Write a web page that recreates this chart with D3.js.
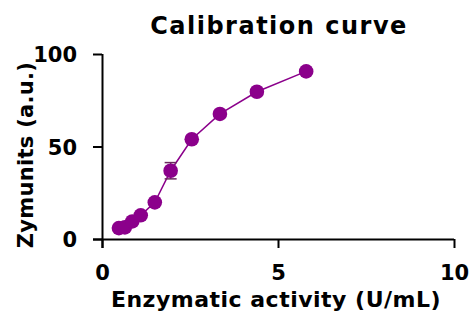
<!DOCTYPE html>
<html><head><meta charset="utf-8">
<script src="https://cdn.jsdelivr.net/npm/d3@7"></script>
<style>body{margin:0;background:#fff}svg{display:block}text{font-family:"DejaVu Sans",sans-serif;font-weight:bold;fill:#000}</style>
</head><body><svg id="c" width="469" height="312"></svg>
<script>
const activity = [0.48, 0.65, 0.86, 1.1, 1.5, 1.95, 2.55, 3.35, 4.4, 5.8];
const zymunits = [5.9, 6.3, 9.5, 12.8, 19.8, 36.9, 53.9, 67.6, 79.6, 90.6];
const errors   = [0, 0, 0, 0, 0, 4.4, 0, 0, 0, 0];
const xTicks = [0, 5, 10];
const yTicks = [0, 50, 100];
const title = "Calibration curve";
const xTitle = "Enzymatic activity (U/mL)";
const yTitle = "Zymunits (a.u.)";

const svg = d3.select("#c");
const x = d3.scaleLinear().domain([0,10]).range([102,454]);
const y = d3.scaleLinear().domain([0,100]).range([239,54]);
const col = "#8b008b";

// axes
const xa = svg.append("g").attr("transform","translate(0,239)")
  .call(d3.axisBottom(x).tickValues(xTicks).tickSize(9).tickPadding(14).tickSizeOuter(0));
xa.select(".domain").attr("d", `M${x(0)-9},0.5H${x(10)}`);
const ya = svg.append("g").attr("transform","translate(102,0)")
  .call(d3.axisLeft(y).tickValues(yTicks).tickSize(9).tickPadding(16).tickSizeOuter(0));
ya.select(".domain").attr("d", `M0.5,${y(100)}V${y(0)+9}`);
svg.selectAll(".domain,.tick line").attr("stroke","#000").attr("stroke-width",2);
svg.selectAll(".tick text").style("font-size","21px").attr("fill","#000");
xa.selectAll(".tick text").attr("dy","0.85em");
ya.selectAll(".tick text").attr("dy","0.36em");

// line
svg.append("path").datum(activity.map((a,i)=>[a,zymunits[i]]))
  .attr("d", d3.line().x(d=>x(d[0])).y(d=>y(d[1])))
  .attr("fill","none").attr("stroke",col).attr("stroke-width",1.5);

// error bars
const eb = activity.map((a,i)=>({a, v:zymunits[i], e:errors[i]})).filter(d=>d.e>0);
const g = svg.append("g").attr("stroke","#6b2a5e").attr("stroke-width",1.5);
eb.forEach(d=>{
  g.append("line").attr("x1",x(d.a)).attr("x2",x(d.a)).attr("y1",y(d.v-d.e)).attr("y2",y(d.v+d.e));
  [d.v-d.e, d.v+d.e].forEach(v=>g.append("line").attr("x1",x(d.a)-6).attr("x2",x(d.a)+6).attr("y1",y(v)).attr("y2",y(v)));
});

// points
svg.append("g").selectAll("circle").data(activity).join("circle")
  .attr("cx",(d)=>x(d)).attr("cy",(d,i)=>y(zymunits[i])).attr("r",7.3).attr("fill",col);

// titles
svg.append("text").attr("x",279).attr("y",34).attr("text-anchor","middle").style("font-size","24px").style("letter-spacing","1.5px").text(title);
svg.append("text").attr("x",276).attr("y",307).attr("text-anchor","middle").style("font-size","22px").style("letter-spacing","0.5px").text(xTitle);
svg.append("text").attr("transform","translate(33,155) rotate(-90)").attr("text-anchor","middle").style("font-size","21px").style("letter-spacing","0.3px").text(yTitle);
</script></body></html>
